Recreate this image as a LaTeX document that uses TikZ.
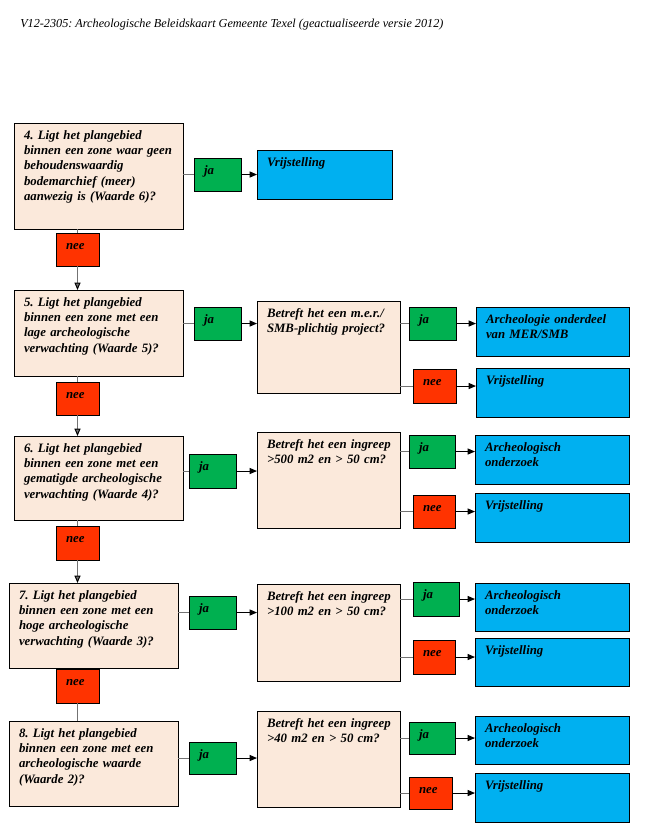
\documentclass[tikz,border=0pt]{standalone}
\usepackage{fontspec}
\setmainfont{Liberation Serif}
\frenchspacing
\usetikzlibrary{arrows.meta}
\definecolor{perzik}{HTML}{FBE9DB}
\definecolor{groen}{HTML}{00B050}
\definecolor{rood}{HTML}{FF3300}
\definecolor{blauw}{HTML}{00B0F0}
\tikzset{
    vak/.style 2 args={
        draw=black,
        line width=0.75pt,
        anchor=north west,
        outer sep=0pt,
        inner xsep=7.5pt,
        inner ysep=0pt,
        text width={0.75pt*(#1-20)},
        text height=12.4pt,
        text depth={0.75pt*(#2-16.5)},
        align=left,
        execute at begin node={\hyphenpenalty=10000 \rightskip=0pt plus 1fil minus 20pt\relax},
        font=\fontsize{9.6}{11.4}\selectfont\bfseries\itshape
    },
    vraag/.style 2 args={vak={#1}{#2}, fill=perzik},
    jabox/.style 2 args={vak={#1}{#2}, fill=groen},
    neebox/.style 2 args={vak={#1}{#2}, fill=rood},
    uitkomst/.style 2 args={vak={#1}{#2}, fill=blauw},
    lijn/.style={color=black!55, line width=0.75pt},
    pijl/.style={color=black, line width=0.75pt, -{Triangle[length=5.5pt,width=4.5pt,color=black]}}
}
\begin{document}
\begin{tikzpicture}[x=0.75pt, y=-0.75pt]
    \useasboundingbox (0,0) rectangle (649,836);

    % Kop
    \node (kop) [anchor=base west, inner sep=0pt, font=\fontsize{9.15}{11}\selectfont\itshape]
        at (20,27) {V12-2305: Archeologische Beleidskaart Gemeente Texel (geactualiseerde versie 2012)};

    % Vragen
    \node (v4) [vraag={169}{106}] at (14,123)
        {4. Ligt het plangebied\\binnen een zone waar geen\\behoudenswaardig\\bodemarchief (meer)\\aanwezig is (Waarde 6)?};
    \node (v5) [vraag={169}{86}] at (14,290)
        {5. Ligt het plangebied\\binnen een zone met een\\lage archeologische\\verwachting (Waarde 5)?};
    \node (v6) [vraag={169}{84}] at (14,436)
        {6. Ligt het plangebied\\binnen een zone met een\\gematigde archeologische\\verwachting (Waarde 4)?};
    \node (v7) [vraag={169}{85}] at (9,583)
        {7. Ligt het plangebied\\binnen een zone met een\\hoge archeologische\\verwachting (Waarde 3)?};
    \node (v8) [vraag={169}{85}] at (9,721)
        {8. Ligt het plangebied\\binnen een zone met een\\archeologische waarde\\(Waarde 2)?};

    % Betreft
    \node (b5) [vraag={143}{92}] at (257,301) {Betreft het een m.e.r./\\SMB-plichtig project?};
    \node (b6) [vraag={143}{96}] at (257,432) {Betreft het een ingreep\\>500 m2 en > 50 cm?};
    \node (b7) [vraag={143}{97}] at (257,584) {Betreft het een ingreep\\>100 m2 en > 50 cm?};
    \node (b8) [vraag={143}{96}] at (257,711) {Betreft het een ingreep\\>40 m2 en > 50 cm?};

    % Ja
    \node (ja4) [jabox={47}{33}] at (194,158) {ja};
    \node (ja5) [jabox={47}{33}] at (194,307) {ja};
    \node (ja6) [jabox={47}{34}] at (189,454) {ja};
    \node (ja7) [jabox={47}{33}] at (189,596) {ja};
    \node (ja8) [jabox={47}{32}] at (189,742) {ja};
    \node (ja5b) [jabox={47}{33}] at (409,307) {ja};
    \node (ja6b) [jabox={46}{33}] at (409,435) {ja};
    \node (ja7b) [jabox={46}{34}] at (413,582) {ja};
    \node (ja8b) [jabox={46}{32}] at (409,722) {ja};

    % Nee
    \node (nee4) [neebox={43}{33}] at (56,233) {nee};
    \node (nee5) [neebox={43}{33}] at (56,382) {nee};
    \node (nee6) [neebox={43}{34}] at (56,526) {nee};
    \node (nee7) [neebox={43}{34}] at (56,669) {nee};
    \node (nee5b) [neebox={43}{34}] at (413,369) {nee};
    \node (nee6b) [neebox={42}{33}] at (413,495) {nee};
    \node (nee7b) [neebox={42}{34}] at (413,640) {nee};
    \node (nee8b) [neebox={43}{32}] at (409,777) {nee};

    % Uitkomsten
    \node (vrij4) [uitkomst={135}{49}] at (257,150) {Vrijstelling};
    \node (arch5) [uitkomst={153}{49}] at (476,307) {Archeologie onderdeel\\van MER/SMB};
    \node (vrij5) [uitkomst={153}{49}] at (476,368) {Vrijstelling};
    \node (arch6) [uitkomst={154}{49}] at (475,435) {Archeologisch\\onderzoek};
    \node (vrij6) [uitkomst={154}{49}] at (475,493) {Vrijstelling};
    \node (arch7) [uitkomst={154}{48}] at (475,583) {Archeologisch\\onderzoek};
    \node (vrij7) [uitkomst={154}{48}] at (475,638) {Vrijstelling};
    \node (arch8) [uitkomst={154}{48}] at (475,716) {Archeologisch\\onderzoek};
    \node (vrij8) [uitkomst={154}{49}] at (475,773) {Vrijstelling};

    % Ja-takken
    \path [lijn]
        (v4.east |- ja4.west) edge (ja4.west)
        (v5.east |- ja5.west) edge (ja5.west)
        (v6.east |- ja6.west) edge (ja6.west)
        (v7.east |- ja7.west) edge (ja7.west)
        (v8.east |- ja8.west) edge (ja8.west)
    ;
    \path [pijl]
        (ja4.east) edge (vrij4.west |- ja4.east)
        (ja5.east) edge (b5.west |- ja5.east)
        (ja6.east) edge (b6.west |- ja6.east)
        (ja7.east) edge (b7.west |- ja7.east)
        (ja8.east) edge (b8.west |- ja8.east)
    ;

    % Nee-takken
    \path [lijn]
        (v4.south -| nee4.north) edge (nee4.north)
        (v5.south -| nee5.north) edge (nee5.north)
        (v6.south -| nee6.north) edge (nee6.north)
        (nee7.south) edge (v8.north -| nee7.south)
    ;
    \path [pijl, color=black!55]
        (nee4.south) edge (v5.north -| nee4.south)
        (nee5.south) edge (v6.north -| nee5.south)
        (nee6.south) edge (v7.north -| nee6.south)
    ;

    % Betreft -> uitkomst
    \foreach \r in {5,...,8} {
        \draw [lijn] (b\r.east |- ja\r b.west) -- (ja\r b.west);
        \draw [pijl] (ja\r b.east) -- (arch\r.west |- ja\r b.east);
        \draw [lijn] (b\r.east |- nee\r b.west) -- (nee\r b.west);
        \draw [pijl] (nee\r b.east) -- (vrij\r.west |- nee\r b.east);
    }
\end{tikzpicture}
\end{document}
